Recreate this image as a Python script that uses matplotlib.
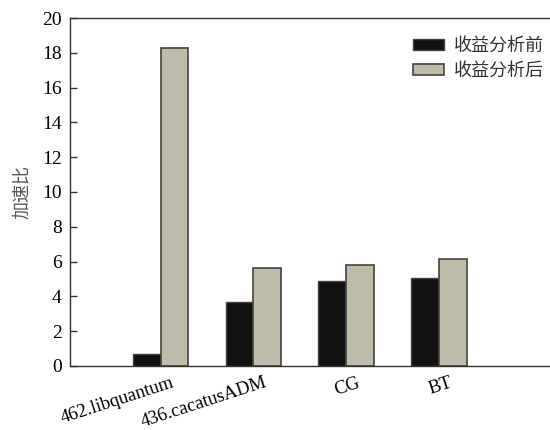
import numpy as np
import matplotlib
matplotlib.use("Agg")
import matplotlib.pyplot as plt

plt.rcParams['font.family'] = ['Liberation Serif', 'Noto Sans CJK SC']

categories = ["462.libquantum", "436.cacatusADM", "CG", "BT"]
before = [0.68, 3.68, 4.87, 5.08]
after = [18.25, 5.63, 5.8, 6.17]
series_names = ["收益分析前", "收益分析后"]
yticks = [0, 2, 4, 6, 8, 10, 12, 14, 16, 18, 20]

fig = plt.figure(figsize=(5.5, 4.3), dpi=100)
ax = fig.add_axes([0.127, 0.149, 0.873, 0.809])

x = np.arange(len(categories))
w = 0.3
ax.bar(x - w / 2, before, w, color="#111111", edgecolor="#4a3f3f", linewidth=1, label=series_names[0])
ax.bar(x + w / 2, after, w, color="#bdbcab", edgecolor="#4a3f3f", linewidth=1.2, label=series_names[1])

ax.set_xlim(-0.98, 4.2)
ax.set_ylim(0, 20)
ax.set_yticks(yticks)
# labels sit a bit right of the group centre, tick marks are hidden
ax.set_xticks(x + 0.17)
ax.set_xticklabels(categories, rotation=18, ha="right", va="top")
ax.tick_params(axis="x", length=0, labelsize=13.5, pad=6)
ax.tick_params(axis="y", direction="in", length=5, width=1, labelsize=14, pad=6, color="#333333")
ax.spines["right"].set_visible(False)
for s in ["left", "top", "bottom"]:
    ax.spines[s].set_color("#333333")
    ax.spines[s].set_linewidth(1)

ax.set_ylabel("加速比", fontsize=13, color="#555555", labelpad=8)

leg = ax.legend(loc="upper left", bbox_to_anchor=(0.715, 0.943), frameon=False,
                fontsize=13, handlelength=1.7, handleheight=0.6, handletextpad=0.55,
                labelspacing=0.45, borderaxespad=0, borderpad=0)
for t in leg.get_texts():
    t.set_color("#333333")

fig.savefig("out.png", dpi=100)
